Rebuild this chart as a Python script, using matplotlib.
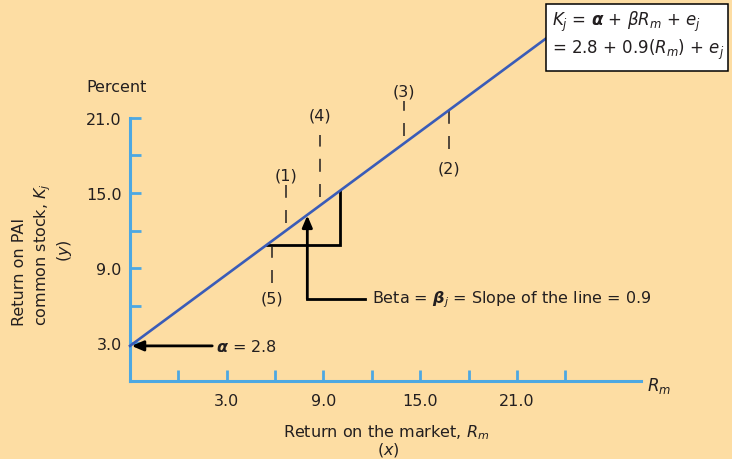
import numpy as np
import matplotlib.pyplot as plt
from matplotlib.patches import Rectangle

plt.rcParams['font.family'] = ['DejaVu Sans']
plt.rcParams['mathtext.fontset'] = 'dejavusans'

# characteristic line
alpha = 2.8
beta = 0.9
slope_drawn = 0.95   # slope as it is drawn on the schematic
x_end = 25.8

y_ticks = [3, 6, 9, 12, 15, 18, 21]
y_ticklabels = ['3.0', '', '9.0', '', '15.0', '', '21.0']
x_ticks = [3, 6, 9, 12, 15, 18, 21, 24, 27]
x_ticklabels = ['', '3.0', '', '9.0', '', '15.0', '', '21.0', '']

# the numbered observations (dashed markers)
pt_labels = ['(1)', '(2)', '(3)', '(4)', '(5)']
pt_x = [9.65, 19.78, 17.0, 11.78, 8.82]
pt_top = [15.6, 21.6, 22.3, 19.6, 10.7]
pt_bottom = [12.6, 18.5, 19.5, 14.7, 7.8]
pt_label_y = [16.45, 17.0, 23.1, 21.2, 6.6]

# slope triangle and beta arrow
tri_x = [8.5, 13.0]
beta_x = 11.0
beta_y = 6.55
beta_text_x = 15.0

bg = '#FDDDA3'
axis_blue = '#4DA8E2'
line_blue = '#3A5CB8'
txt = '#231F20'
fs = 11.5

fig = plt.figure(figsize=(7.32, 4.6), dpi=100, facecolor=bg)
ax = fig.add_axes([130 / 732, 78 / 460, 511 / 732, 29 * 12.54 / 460])
ax.set_facecolor(bg)
ax.set_xlim(0, 31.7)
ax.set_ylim(0, 29)

for s in ['top', 'right']:
    ax.spines[s].set_visible(False)
for s in ['left', 'bottom']:
    ax.spines[s].set_color(axis_blue)
    ax.spines[s].set_linewidth(2.2)
ax.spines['left'].set_bounds(0, 21)

ax.set_yticks(y_ticks)
ax.set_yticklabels(y_ticklabels)
ax.set_xticks(x_ticks)
ax.set_xticklabels(x_ticklabels)
ax.tick_params(axis='both', direction='in', length=8, width=2, color=axis_blue,
               labelsize=fs, labelcolor=txt)
ax.tick_params(axis='y', pad=6)
ax.tick_params(axis='x', pad=9)

# line
xs = np.array([0, x_end])
ax.plot(xs, alpha + slope_drawn * xs, color=line_blue, lw=1.9, clip_on=False, zorder=3)

# dashed markers
for lab, x, t, b, ly in zip(pt_labels, pt_x, pt_top, pt_bottom, pt_label_y):
    ax.plot([x, x], [b, t], color=txt, lw=1.1, linestyle=(0, (8.5, 8)), zorder=2)
    ax.text(x, ly, lab, ha='center', va='center', fontsize=fs, color=txt)

# triangle
y1 = alpha + slope_drawn * tri_x[0]
y2 = alpha + slope_drawn * tri_x[1]
ax.plot([tri_x[0], tri_x[1], tri_x[1]], [y1, y1, y2], color='black', lw=2, zorder=2,
        solid_joinstyle='miter')

# beta arrow
ax.plot([beta_text_x - 0.45, beta_x], [beta_y, beta_y], color='black', lw=2)
ax.annotate('', xy=(beta_x, alpha + slope_drawn * beta_x - 0.05), xytext=(beta_x, beta_y),
            arrowprops=dict(arrowstyle='-|>,head_length=0.7,head_width=0.3', color='black',
                            lw=2, shrinkA=0, shrinkB=0))
ax.text(beta_text_x, beta_y, r'Beta = $\boldsymbol{\beta}_j$ = Slope of the line = 0.9',
        ha='left', va='center', fontsize=fs, color=txt)

# alpha arrow
ax.annotate('', xy=(0.1, alpha), xytext=(5.1, alpha),
            arrowprops=dict(arrowstyle='-|>,head_length=0.7,head_width=0.3', color='black',
                            lw=2, shrinkA=0, shrinkB=0))
ax.text(5.35, alpha, r'$\boldsymbol{\alpha}$ = 2.8', ha='left', va='center', fontsize=fs,
        color=txt)

# axis texts
ax.text(32.1, -0.3, r'$R_m$', ha='left', va='center', fontsize=fs + 0.5, color=txt)
fig.text(117 / 732, 1 - 88 / 460, 'Percent', ha='center', va='center', fontsize=fs, color=txt)
fig.text(386 / 732, 1 - 433 / 460, r'Return on the market, $R_m$', ha='center', va='center',
         fontsize=fs, color=txt)
fig.text(388 / 732, 1 - 450 / 460, r'$(x)$', ha='center', va='center', fontsize=fs, color=txt)
fig.text(20 / 732, 1 - 326 / 460, 'Return on PAI', ha='center', va='bottom', rotation=90,
         fontsize=fs, color=txt)
fig.text(43 / 732, 1 - 326 / 460, r'common stock, $K_j$', ha='center', va='bottom', rotation=90,
         fontsize=fs, color=txt)
fig.text(65 / 732, 1 - 251 / 460, r'$(y)$', ha='center', va='center', rotation=90,
         fontsize=fs, color=txt)

# equation box
fig.patches.append(Rectangle((546 / 732, 1 - 72 / 460), 182 / 732, 67 / 460,
                             transform=fig.transFigure, facecolor='white',
                             edgecolor='black', lw=1.1, zorder=5))
fig.text(552 / 732, 1 - 22 / 460, r'$K_j$ = $\boldsymbol{\alpha}$ + $\beta R_m$ + $e_j$',
         ha='left', va='center', fontsize=12, color=txt, zorder=6)
fig.text(552 / 732, 1 - 50 / 460, r'= 2.8 + 0.9($R_m$) + $e_j$', ha='left', va='center',
         fontsize=12, color=txt, zorder=6)

fig.savefig('out.png', dpi=100, facecolor=bg)
